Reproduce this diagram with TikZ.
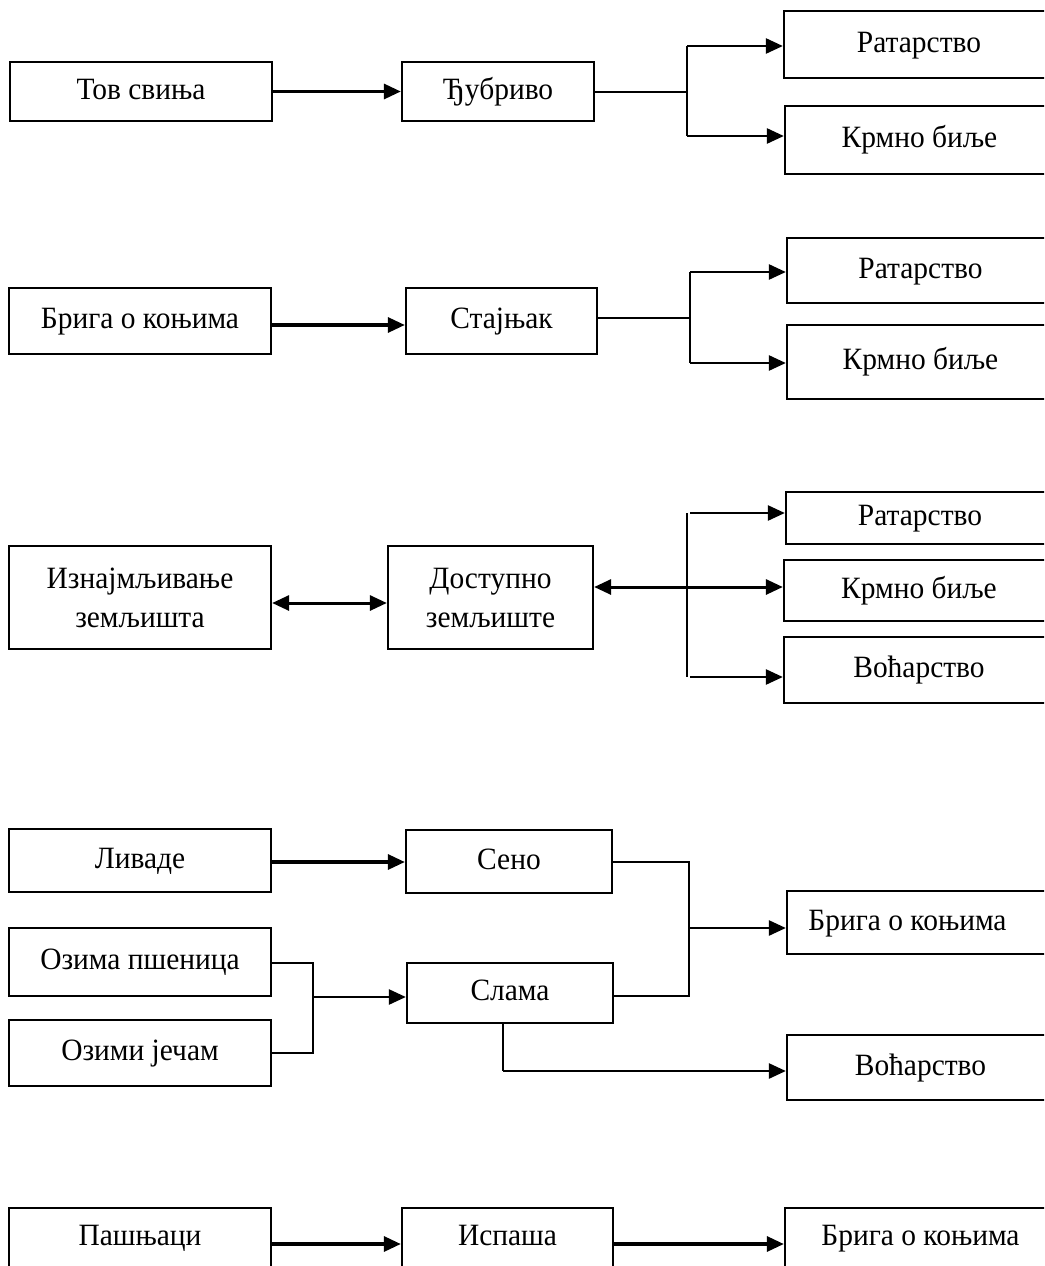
\documentclass[tikz,border=0pt]{standalone}
\usepackage{fontspec}
\setmainfont{Liberation Serif}[FakeStretch=0.95]
\usetikzlibrary{arrows.meta}
\tikzset{
  box/.style={draw, line width=2.3pt, rectangle, inner sep=0pt, align=center,
              font=\fontsize{31}{39}\selectfont},
  one/.style={text height=21pt, text depth=6pt},
  tip/.style={-{Triangle[length=17pt,width=15pt]}},
  arr/.style={tip, line width=3.2pt},
  branch/.style={tip, line width=2.6pt},
  dbl/.style={{Triangle[length=17pt,width=15pt]}-{Triangle[length=17pt,width=15pt]}, line width=3pt},
  link/.style={line width=2pt}
}
\begin{document}
\begin{tikzpicture}[x=1pt,y=-1pt]
\useasboundingbox (0,0) rectangle (1044,1266);
\clip (0,0) rectangle (1044,1266);
\fill[white] (0,0) rectangle (1044,1266);

% --- pig fattening -> manure -> fields
\node[box, one, minimum width=262, minimum height=59] (tov) at (141,91.5) {Тов свиња};
\node[box, one, minimum width=192, minimum height=59] (dj) at (498,91.5) {Ђубриво};
\node[box, one, minimum width=270, minimum height=67] (rat1) at (919,44.5) {Ратарство};
\node[box, one, minimum width=269, minimum height=68] (krm1) at (919.5,140) {Крмно биље};
\coordinate (j1a) at (687,46);
\coordinate (j1b) at (687,136);
\draw[arr] (tov) -- (dj);
\draw[link] (dj.east) -- (dj.east -| j1a);
\draw[link] (j1a) -- (j1b);
\draw[branch] (j1a) -- (rat1.west |- j1a);
\draw[branch] (j1b) -- (krm1.west |- j1b);

% --- horse care -> dung -> fields
\node[box, one, minimum width=262, minimum height=66] (briga2) at (140,321) {Брига о коњима};
\node[box, one, minimum width=191, minimum height=66] (staj) at (501.5,321) {Стајњак};
\node[box, one, minimum width=267, minimum height=65] (rat2) at (920.5,270.5) {Ратарство};
\node[box, one, minimum width=267, minimum height=74] (krm2) at (920.5,362) {Крмно биље};
\coordinate (j2a) at (690,272);
\coordinate (j2b) at (690,363);
\coordinate (j2m) at (690,318);
\draw[arr] (briga2.east |- 0,325) -- (staj.west |- 0,325);
\draw[link] (staj.east |- j2m) -- (j2m);
\draw[link] (j2a) -- (j2b);
\draw[branch] (j2a) -- (rat2.west |- j2a);
\draw[branch] (j2b) -- (krm2.west |- j2b);

% --- land lease <-> available land <-> uses
\node[box, minimum width=262, minimum height=103] (izn) at (140,597.5) {Изнајмљивање\\земљишта};
\node[box, minimum width=205, minimum height=103] (dost) at (490.5,597.5) {Доступно\\земљиште};
\node[box, one, minimum width=268, minimum height=52] (rat3) at (920,518) {Ратарство};
\node[box, one, minimum width=270, minimum height=61] (krm3) at (919,590.5) {Крмно биље};
\node[box, one, minimum width=270, minimum height=66] (voc3) at (919,670) {Воћарство};
\coordinate (j3a) at (687,513);
\coordinate (j3b) at (687,677);
\draw[dbl] (izn.east |- 0,603) -- (dost.west |- 0,603);
\draw[link] (j3a) -- (j3b);
\draw[branch] (690,513) -- (rat3.west |- j3a);
\draw[dbl] (dost.east |- 0,587) -- (krm3.west |- 0,587);
\draw[branch] (690,677) -- (voc3.west |- j3b);

% --- meadows, winter crops -> hay, straw -> horses, orchards
\node[box, one, minimum width=262, minimum height=63] (liv) at (140,860.5) {Ливаде};
\node[box, one, minimum width=206, minimum height=63] (seno) at (509,861.5) {Сено};
\node[box, one, minimum width=262, minimum height=68] (ozp) at (140,962) {Озима пшеница};
\node[box, one, minimum width=262, minimum height=66] (ozj) at (140,1053) {Озими јечам};
\node[box, one, minimum width=206, minimum height=60] (slama) at (510,993) {Слама};
\node[box, one, minimum width=267, minimum height=63] (brig4) at (920.5,922.5) {Брига о коњима\hspace*{26pt}};
\node[box, one, minimum width=267, minimum height=65] (voc4) at (920.5,1067.5) {Воћарство};
\coordinate (j4a) at (689,862);
\coordinate (j4b) at (689,996);
\coordinate (j4m) at (689,928);
\coordinate (g1) at (313,963);
\coordinate (g2) at (313,1053);
\coordinate (gm) at (313,997);
\coordinate (s1) at (503,1071);
\draw[arr] (liv.east |- 0,862) -- (seno.west |- 0,862);
\draw[link] (seno.east |- j4a) -- (j4a) -- (j4b) -- (slama.east |- j4b);
\draw[branch] (j4m) -- (brig4.west |- j4m);
\draw[link] (ozp.east |- g1) -- (g1) -- (g2) -- (ozj.east |- g2);
\draw[branch] (gm) -- (slama.west |- gm);
\draw[link] (slama.south -| s1) -- (s1);
\draw[branch] (s1) -- (voc4.west |- s1);

% --- pastures -> grazing -> horse care
\node[box, one, minimum width=262, minimum height=60] (pas) at (140,1238) {Пашњаци};
\node[box, one, minimum width=211, minimum height=60] (isp) at (507.5,1238) {Испаша};
\node[box, one, minimum width=271, minimum height=60] (brig5) at (920.5,1238) {Брига о коњима};
\draw[arr] (pas.east |- 0,1244) -- (isp.west |- 0,1244);
\draw[arr] (isp.east |- 0,1244) -- (brig5.west |- 0,1244);
\end{tikzpicture}
\end{document}
